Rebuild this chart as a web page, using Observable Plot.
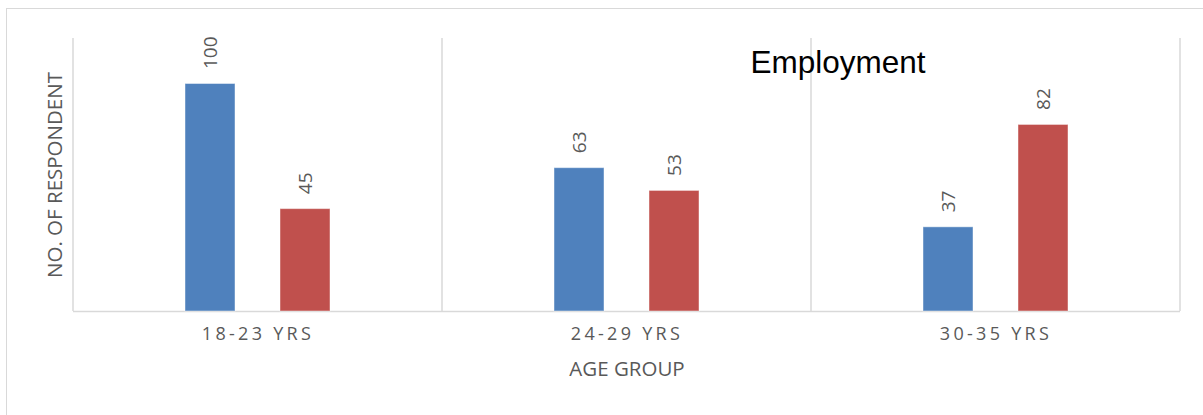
<!DOCTYPE html>
<html>
<head>
<meta charset="utf-8">
<script src="https://cdn.jsdelivr.net/npm/d3@7"></script>
<script src="https://cdn.jsdelivr.net/npm/@observablehq/plot@0.6"></script>
<style>
  html, body { margin: 0; padding: 0; background: #fff; overflow: hidden; }
  #wrap { position: relative; width: 1203px; height: 415px; }
  #border { position: absolute; left: 6px; top: 8px; width: 1400px; height: 600px; border: 1.5px solid #d9d9d9; box-sizing: border-box; }
  #chart { position: absolute; left: 0; top: 0; }
  .ticklab text { letter-spacing: 3.3px; }
</style>
</head>
<body>
<div id="wrap"><div id="border"></div><div id="chart"></div></div>
<script>
const categories = ["18-23 YRS", "24-29 YRS", "30-35 YRS"];
const seriesNames = ["Series 1", "Series 2"];
const series1 = [100, 63, 37];
const series2 = [45, 53, 82];
const title = "Employment";
const yTitle = "NO. OF RESPONDENT";
const xTitle = "AGE GROUP";

const data = [];
categories.forEach((c, i) => {
  data.push({cat: c, s: seriesNames[0], v: series1[i]});
  data.push({cat: c, s: seriesNames[1], v: series2[i]});
});

const W = 1203, H = 415, mL = 73, mR = 23, mT = 38, mB = 104;
const grey = "#595959";
const sans = "'Open Sans', 'Noto Sans', sans-serif";

const chart = Plot.plot({
  width: W,
  height: H,
  marginLeft: mL,
  marginRight: mR,
  marginTop: mT,
  marginBottom: mB,
  style: { background: "transparent", fontFamily: sans, overflow: "visible" },
  fx: { domain: categories, padding: 0, axis: null },
  x: { domain: seriesNames, paddingInner: 0.4737, paddingOuter: 1.177, axis: null },
  y: { domain: [0, 120], axis: null },
  color: { domain: seriesNames, range: ["#4f81bd", "#c0504d"] },
  marks: [
    Plot.ruleY([0], { stroke: "#d9d9d9", strokeWidth: 1.5 }),
    Plot.barY(data, {
      fx: "cat", x: "s", y: "v", fill: "s",
      stroke: "#ffffff", strokeOpacity: 0.45, strokeWidth: 1
    }),
    Plot.text(data, {
      fx: "cat", x: "s", y: "v", text: d => String(d.v),
      rotate: -90, textAnchor: "start", dy: -15,
      fill: grey, fontSize: 19, fontFamily: sans
    }),
    Plot.text(categories, {
      fx: d => d, text: d => d, frameAnchor: "bottom", dy: 28.5,
      fill: grey, fontSize: 18, fontFamily: sans, className: "ticklab"
    }),
    Plot.text([categories[1]], {
      fx: d => d, text: () => xTitle, frameAnchor: "bottom", dy: 64.5,
      fill: grey, fontSize: 20.5, fontFamily: sans
    }),
    Plot.text([categories[0]], {
      fx: d => d, text: () => yTitle, frameAnchor: "left", textAnchor: "middle",
      lineAnchor: "middle", rotate: -90, dx: -18,
      fill: grey, fontSize: 20.5, fontFamily: sans
    }),
    Plot.text([categories[2]], {
      fx: d => d, text: () => title, frameAnchor: "top-left", lineAnchor: "top",
      textAnchor: "start", dx: -61, dy: 12,
      fill: "#000", fontSize: 31.5, fontFamily: "'Liberation Sans', Arial, sans-serif"
    })
  ]
});

// category boundary gridlines, placed from the library's fx scale
const fx = chart.scale("fx");
const svg = d3.select(chart.tagName.toLowerCase() === "svg" ? chart : chart.querySelector("svg"));
const edges = categories.map(c => fx.apply(c));
edges.push(fx.apply(categories[categories.length - 1]) + fx.bandwidth);
svg.insert("g", ":first-child")
  .attr("stroke", "#d9d9d9").attr("stroke-width", 1.5)
  .selectAll("line").data(edges).join("line")
  .attr("x1", d => d).attr("x2", d => d)
  .attr("y1", mT).attr("y2", H - mB);

document.getElementById("chart").appendChild(chart);
</script>
</body>
</html>
